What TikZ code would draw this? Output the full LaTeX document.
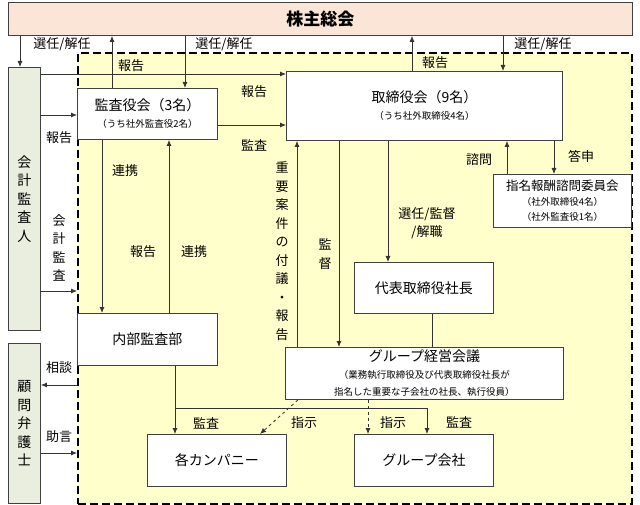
\documentclass[tikz,border=0pt]{standalone}
\usepackage{fontspec}
\setmainfont{Noto Sans CJK JP}
\usetikzlibrary{arrows.meta,positioning}
\definecolor{kabunushi}{RGB}{251,229,214}
\definecolor{kansajin}{RGB}{233,238,222}
\definecolor{gaikaku}{RGB}{255,255,204}
\newcommand{\subtxt}[1]{{\fontsize{9.5}{13}\selectfont #1}}

\begin{document}
\begin{tikzpicture}[x=1pt,y=-1pt,->,>={Latex[length=6pt,width=5pt]},line width=0.8pt,draw=black!80]
	\tikzstyle{box}=[rectangle, draw=black!75, line width=0.9pt, fill=white, anchor=north west, inner sep=0pt, align=center, font=\fontsize{14}{17}\selectfont]
	\tikzstyle{lbl}=[align=center, font=\fontsize{13}{18.5}\selectfont]
	\useasboundingbox (0,0) rectangle (640,505);
	
	\node[box, fill=gaikaku, dash pattern=on 8pt off 4pt, line width=1.6pt, draw=black, minimum width=554pt, minimum height=451pt] (0) at (77,52) {};
	
	\node[box, fill=kabunushi, minimum width=624pt, minimum height=33pt, font=\fontsize{17}{20}\bfseries] (1) at (8,2) {株主総会};
	\node[box, fill=kansajin, minimum width=32pt, minimum height=263pt, font=\fontsize{14}{18.5}\selectfont] (2) at (8,67) {会\\計\\監\\査\\人};
	\node[box, fill=kansajin, minimum width=32pt, minimum height=160pt, font=\fontsize{14}{18.5}\selectfont] (3) at (8,343) {顧\\問\\弁\\護\\士};
	\node[box, minimum width=140pt, minimum height=51pt] (4) at (77,88) {監査役会（3名）\\\subtxt{（うち社外監査役2名）}};
	\node[box, minimum width=276pt, minimum height=69pt] (5) at (286,71) {取締役会（9名）\\\subtxt{（うち社外取締役4名）}};
	\node[box, minimum width=138pt, minimum height=53pt, font=\fontsize{12.5}{15}\selectfont] (6) at (493,174) {指名報酬諮問委員会\\\subtxt{（社外取締役4名）}\\\subtxt{（社外監査役1名）}};
	\node[box, minimum width=139pt, minimum height=51pt] (7) at (354,262) {代表取締役社長};
	\node[box, minimum width=140pt, minimum height=52pt] (8) at (77,313) {内部監査部};
	\node[box, minimum width=278pt, minimum height=52pt] (9) at (285,347) {グループ経営会議\\\subtxt{（業務執行取締役及び代表取締役社長が}\\\subtxt{指名した重要な子会社の社長、執行役員）}};
	\node[box, minimum width=139pt, minimum height=52pt] (10) at (147,434) {各カンパニー};
	\node[box, minimum width=139pt, minimum height=52pt] (11) at (354,434) {グループ会社};
	
	% 株主総会
	\path ([xshift=12pt]2.north west |- 1.south) edge ([xshift=12pt]2.north west);
	\path ([xshift=35pt]4.north west) edge ([xshift=35pt]4.north west |- 1.south);
	\path ([xshift=108pt]4.north west |- 1.south) edge ([xshift=108pt]4.north west);
	\path ([xshift=126pt]5.north west) edge ([xshift=126pt]5.north west |- 1.south);
	\path ([xshift=217pt]5.north west |- 1.south) edge ([xshift=217pt]5.north west);
	
	% 会計監査人, 顧問弁護士
	\path ([yshift=-7pt]2.north east) edge ([yshift=-7pt]2.north east -| 5.west);
	\path ([yshift=-48pt]2.north east) edge ([yshift=-48pt]2.north east -| 4.west);
	\path ([yshift=-224pt]2.north east) edge ([yshift=-224pt]2.north east -| 0.west);
	\path ([yshift=-42pt]3.north east -| 0.west) edge ([yshift=-42pt]3.north east);
	\path ([yshift=-110pt]3.north east) edge ([yshift=-110pt]3.north east -| 0.west);
	
	% 監査役会, 取締役会
	\path ([yshift=-37pt]4.north east) edge ([yshift=-37pt]4.north east -| 5.west);
	\path ([xshift=25pt]4.south west) edge ([xshift=25pt]4.south west |- 8.north);
	\path ([xshift=92pt]8.north west) edge ([xshift=92pt]8.north west |- 4.south);
	\path ([xshift=12pt]9.north west) edge ([xshift=12pt]9.north west |- 5.south);
	\path ([xshift=53pt]5.south west) edge ([xshift=53pt]5.south west |- 9.north);
	\path ([xshift=102pt]5.south west) edge ([xshift=102pt]5.south west |- 7.north);
	\path ([xshift=78pt]7.south west) edge[-] ([xshift=78pt]7.south west |- 9.north);
	\path ([xshift=14pt]6.north west) edge ([xshift=14pt]6.north west |- 5.south);
	\path ([xshift=61pt]6.north west |- 5.south) edge ([xshift=61pt]6.north west);
	
	% 監査, 指示
	\path ([xshift=98pt]8.south west) edge ([xshift=98pt]8.south west |- 10.north);
	\coordinate (12) at (175,408);
	\draw (12) -| ([xshift=73pt]11.north west);
	\path ([xshift=13pt]9.south west) edge[dashed] ([xshift=113pt]10.north west);
	\path ([xshift=83pt]9.south west) edge[dashed] ([xshift=14pt]11.north west);
	
	% labels
	\node[lbl] (l1) at (62,44) {選任/解任};
	\node[lbl] (l2) at (224,44) {選任/解任};
	\node[lbl] (l3) at (543,44) {選任/解任};
	\node[lbl] (l4) at (131,66) {報告};
	\node[lbl] (l5) at (435,63) {報告};
	\node[lbl] (l6) at (254,92) {報告};
	\node[lbl] (l7) at (59,138) {報告};
	\node[lbl] (l8) at (254,145) {監査};
	\node[lbl] (l9) at (59,248) {会\\計\\監\\査};
	\node[lbl] (l10) at (125,171) {連携};
	\node[lbl] (l11) at (143,252) {報告};
	\node[lbl] (l12) at (194,252) {連携};
	\node[lbl] (l13) at (282,251) {重\\要\\案\\件\\の\\付\\議\\・\\報\\告};
	\node[lbl] (l14) at (325,254) {監\\督};
	\node[lbl] (l15) at (427,223) {選任/監督\\/解職};
	\node[lbl] (l16) at (479,160) {諮問};
	\node[lbl] (l17) at (581,156) {答申};
	\node[lbl] (l18) at (59,368) {相談};
	\node[lbl] (l19) at (59,437) {助言};
	\node[lbl] (l20) at (206,423) {監査};
	\node[lbl] (l21) at (304,423) {指示};
	\node[lbl] (l22) at (393,423) {指示};
	\node[lbl] (l23) at (459,422) {監査};
	
\end{tikzpicture}
\end{document}
